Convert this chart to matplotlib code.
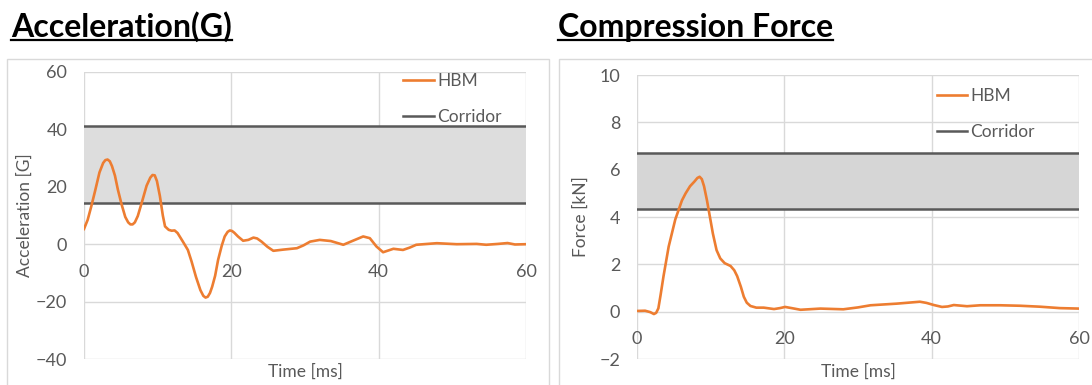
import matplotlib
matplotlib.use("Agg")
import matplotlib.pyplot as plt
from matplotlib.lines import Line2D
from matplotlib.patches import Rectangle

plt.rcParams['font.family'] = ['Lato', 'DejaVu Sans']

# --- data ---------------------------------------------------------------------
acc_t = [0, 0.5, 1.0, 1.5, 2.1, 2.6, 2.9, 3.2, 3.5, 3.8, 4.2, 4.6, 5.1, 5.6, 6.0,
         6.3, 6.6, 6.9, 7.3, 7.9, 8.5, 9.0, 9.3, 9.6, 9.9, 10.3, 10.7, 11.0, 11.5,
         11.9, 12.3, 12.7, 13.4, 14.1, 14.6, 15.2, 15.8, 16.2, 16.5, 16.8, 17.1,
         17.4, 17.8, 18.2, 18.7, 19.1, 19.5, 19.8, 20.1, 20.4, 20.9, 21.6, 22.3,
         23.0, 23.5, 24.1, 24.9, 25.7, 27.0, 28.9, 29.8, 30.7, 32.0, 33.5, 35.2,
         36.5, 37.9, 38.8, 39.7, 40.6, 41.3, 42.0, 43.3, 44.2, 45.1, 47.9, 50.6,
         53.3, 54.6, 56.2, 57.5, 58.5, 60]
acc_g = [5.3, 8.5, 13.3, 18.5, 25, 28.3, 29.3, 29.5, 28.9, 27.2, 23.9, 19, 13.9,
         9.5, 7.6, 6.9, 6.9, 7.6, 9.8, 15, 20.4, 23.2, 24.1, 24.0, 22, 16.8, 10, 6.2,
         5, 4.7, 4.8, 3.9, 1, -2, -6, -11.4, -16, -18.0, -18.6, -18.3, -17.0, -14.8,
         -11, -5.5, -0.5, 2.7, 4.3, 4.8, 4.6, 4, 2.7, 1.2, 1.5, 2.3, 2.0, 0.9, -0.9,
         -2.3, -1.9, -1.4, -0.4, 0.9, 1.5, 1.1, -0.2, 1.2, 2.7, 2.1, -0.8, -2.8,
         -2.2, -1.6, -2.0, -1.2, -0.2, 0.35, 0, 0.1, -0.2, 0.1, 0.4, -0.1, 0]
acc_corridor = (14.5, 41.2)

frc_t = [0, 1.1, 1.8, 2.3, 2.6, 2.9, 3.2, 3.6, 4.3, 5.2, 6.1, 6.6, 7.2, 7.8, 8.2,
         8.5, 8.8, 9.1, 9.5, 9.9, 10.3, 10.8, 11.3, 11.9, 12.7, 13.2, 13.6, 14.1,
         14.5, 14.9, 15.4, 16.2, 17.2, 18.6, 19.4, 20.1, 21.0, 22.2, 24.9, 28.0,
         30.0, 31.7, 35.3, 38.4, 39.3, 40.3, 41.4, 42.2, 43.0, 44.8, 46.6, 49.3,
         52.0, 54.7, 57.4, 60]
frc_kn = [0.03, 0.04, -0.02, -0.1, -0.05, 0.14, 0.7, 1.5, 2.75, 3.9, 4.7, 5.0, 5.3,
          5.5, 5.65, 5.7, 5.6, 5.3, 4.7, 4.0, 3.3, 2.6, 2.25, 2.05, 1.93, 1.75, 1.5,
          1.05, 0.63, 0.38, 0.24, 0.17, 0.17, 0.11, 0.15, 0.2, 0.15, 0.08, 0.13,
          0.1, 0.18, 0.27, 0.34, 0.42, 0.37, 0.28, 0.2, 0.22, 0.28, 0.23, 0.27, 0.27,
          0.25, 0.21, 0.15, 0.13]
frc_corridor = (4.32, 6.72)

x_ticks = [0, 20, 40, 60]
acc_ticks = [-40, -20, 0, 20, 40, 60]
frc_ticks = [-2, 0, 2, 4, 6, 8, 10]

ORANGE = '#ed7d31'
DARK = '#595959'
GRID = '#d9d9d9'
TXT = '#595959'
FS = 13

W, H = 1092, 385
fig = plt.figure(figsize=(W / 100, H / 100), dpi=100)


def px(x0, y0, x1, y1):
    # pixel box (top-left origin) -> figure rect
    return [x0 / W, 1 - y1 / H, (x1 - x0) / W, (y1 - y0) / H]


def panel(rect, t, v, band, band_color, yticks, ylabel, ylab_x, leg_xy):
    ax = fig.add_axes(rect)
    ax.axhspan(band[0], band[1], color=band_color, lw=0, zorder=1)
    for b in band:
        ax.axhline(b, color=DARK, lw=1.8, zorder=2)
    ax.plot(t, v, color=ORANGE, lw=1.9, zorder=3, solid_joinstyle='round')
    ax.set_xlim(0, 60)
    ax.set_ylim(yticks[0], yticks[-1])
    ax.set_xticks(x_ticks)
    ax.set_yticks(yticks)
    ax.grid(True, color=GRID, lw=1, zorder=0)
    ax.set_axisbelow(True)
    for s in ax.spines.values():
        s.set_visible(False)
    ax.spines['bottom'].set_position(('data', 0))
    ax.tick_params(length=0, labelsize=FS, labelcolor=TXT)
    ax.tick_params(axis='x', pad=14)
    ax.tick_params(axis='y', pad=12)
    ax.set_ylabel(ylabel, fontsize=12.5, color=TXT, va='center')
    ax.yaxis.set_label_coords(ylab_x, 0.5)
    ax.set_xlabel('Time [ms]', fontsize=12.5, color=TXT, va='center')
    ax.xaxis.set_label_coords(0.5, -0.045)
    handles = [Line2D([], [], color=ORANGE, lw=1.9), Line2D([], [], color=DARK, lw=1.8)]
    ax.legend(handles, ['HBM', 'Corridor'], loc='upper left', bbox_to_anchor=leg_xy,
              frameon=False, fontsize=12.5, labelcolor=TXT, handlelength=1.75,
              handletextpad=0.2, borderpad=0, borderaxespad=0, labelspacing=1.15)
    return ax


panel(px(84, 72, 526, 359), acc_t, acc_g, acc_corridor, '#dddddd', acc_ticks,
      'Acceleration [G]', -0.134, (0.722, 0.995))
panel(px(637, 75, 1079, 359), frc_t, frc_kn, frc_corridor, '#d6d6d6', frc_ticks,
      'Force [kN]', -0.127, (0.678, 0.955))

# chart frames
for x0, x1 in [(7, 549), (559, 1100)]:
    fig.add_artist(Rectangle((x0 / W, -0.05), (x1 - x0) / W, 1.05 - 59 / H,
                             transform=fig.transFigure, fill=False,
                             edgecolor=GRID, lw=1))

# underlined section titles
titles = [(11, 'Acceleration(G)'), (558, 'Compression Force')]
texts = []
for x, s in titles:
    texts.append(fig.text(x / W, 1 - 37 / H, s, fontsize=23, fontweight='bold',
                          color='black', va='baseline', ha='left'))
fig.canvas.draw()
for tx in texts:
    bb = tx.get_window_extent().transformed(fig.transFigure.inverted())
    y = 1 - 40 / H
    fig.add_artist(Line2D([bb.x0, bb.x1], [y, y], transform=fig.transFigure,
                          color='black', lw=1.6))

fig.savefig('out.png', dpi=100)
